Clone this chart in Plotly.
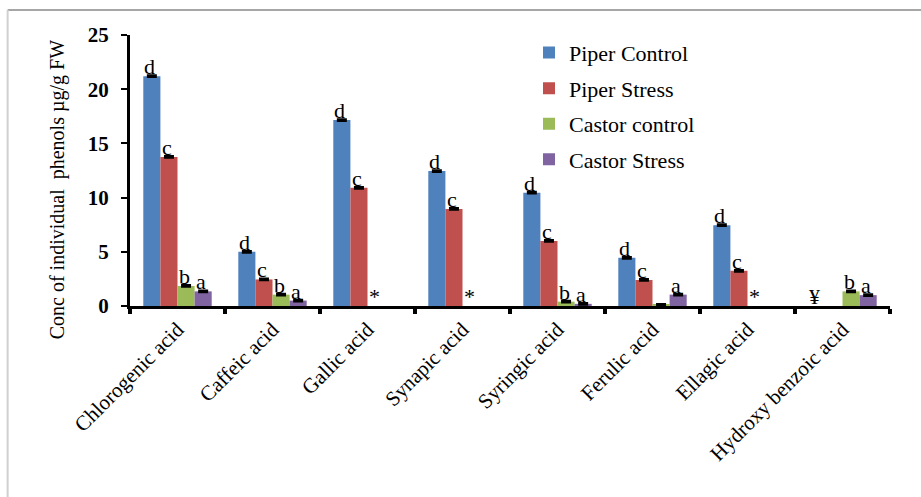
import plotly.graph_objects as go

# Phenolic acids measured
categories = ["Chlorogenic acid", "Caffeic acid", "Gallic acid", "Synapic acid",
              "Syringic acid", "Ferulic acid", "Ellagic acid", "Hydroxy benzoic acid"]

# Concentrations (µg/g FW); 0 = not detected
piper_control = [21.2, 5.0, 17.15, 12.45, 10.45, 4.45, 7.45, 0]
piper_stress = [13.75, 2.45, 10.9, 8.95, 6.0, 2.4, 3.25, 0]
castor_control = [1.85, 1.05, 0, 0, 0.4, 0.1, 0, 1.35]
castor_stress = [1.35, 0.5, 0, 0, 0.2, 1.05, 0, 1.0]

# Small error values drawn as caps on bar tops
piper_control_err = [0.08] * 8
piper_stress_err = [0.08] * 8
castor_control_err = [0.08] * 8
castor_stress_err = [0.08] * 8

# Significance letters per series ("" = none)
piper_control_lbl = ["d", "d", "d", "d", "d", "d", "d", "¥"]
piper_stress_lbl = ["c", "c", "c", "c", "c", "c", "c", ""]
castor_control_lbl = ["b", "b", "*", "*", "b", "", "*", "b"]
castor_stress_lbl = ["a", "a", "", "", "a", "a", "", "a"]

series_names = ["Piper Control", "Piper Stress", "Castor control", "Castor Stress"]
series_values = [piper_control, piper_stress, castor_control, castor_stress]
series_errors = [piper_control_err, piper_stress_err, castor_control_err, castor_stress_err]
series_labels = [piper_control_lbl, piper_stress_lbl, castor_control_lbl, castor_stress_lbl]
colors = ["#4F81BD", "#C0504D", "#9BBB59", "#8064A2"]

SERIF = "Liberation Serif"

fig = go.Figure()
for i, (name, vals, errs, col) in enumerate(zip(series_names, series_values, series_errors, colors)):
    # not-detected entries get no bar and no error cap
    y_vals = [v if v > 0 else None for v in vals]
    fig.add_trace(go.Bar(
        x=categories, y=y_vals, name=name,
        marker=dict(color=col, line=dict(width=0)),
        error_y=dict(type="data", array=errs, visible=True, color="black",
                     thickness=2, width=5),
        legendgroup=f"g{i}",
        offsetgroup=str(i),
    ))

# Letter annotations placed on each bar through the category axis
n = len(series_names)
gap = 0.28
bar_w = (1 - gap) / n
annotations = []
for i, (vals, lbls) in enumerate(zip(series_values, series_labels)):
    off = -(1 - gap) / 2 + bar_w * (i + 0.5)
    for j, (v, t) in enumerate(zip(vals, lbls)):
        if not t:
            continue
        annotations.append(dict(
            x=j + off, y=v, xref="x", yref="y", text=t, showarrow=False,
            xanchor="center", yanchor="bottom", xshift=-2, yshift=-5,
            font=dict(family=SERIF, size=22, color="black"),
        ))

annotations.append(dict(
    x=-0.095, y=0.43, xref="paper", yref="paper", showarrow=False,
    text="Conc of individual  phenols µg/g FW", textangle=-90,
    font=dict(family=SERIF, size=20, color="black"),
    xanchor="center", yanchor="middle",
))

fig.update_layout(
    width=921, height=497,
    margin=dict(l=130, r=31, t=35, b=191),
    paper_bgcolor="white", plot_bgcolor="white",
    font=dict(family=SERIF, color="black"),
    barmode="group", bargap=gap, bargroupgap=0,
    showlegend=True,
    legend=dict(x=0.525, y=1.012, xanchor="left", yanchor="top",
                font=dict(family=SERIF, size=22, color="black"),
                bgcolor="rgba(0,0,0,0)", tracegroupgap=4,
                itemclick=False),
    annotations=annotations,
    shapes=[
        dict(type="line", xref="paper", yref="paper", x0=-0.161, x1=1.05,
             y0=1.092, y1=1.092, line=dict(color="#a6a6a6", width=2)),
        dict(type="line", xref="paper", yref="paper", x0=-0.161, x1=-0.161,
             y0=1.092, y1=-0.72, line=dict(color="#d0d0d0", width=2)),
    ],
    xaxis=dict(
        type="category", showgrid=False, showline=True, linecolor="black",
        linewidth=3, ticks="outside", tickson="boundaries", ticklen=5,
        tickwidth=4, tickcolor="black", tickangle=-45,
        tickfont=dict(family=SERIF, size=21, color="black"),
        range=[-0.5, 7.5],
    ),
    yaxis=dict(
        range=[0, 25], dtick=5, showgrid=False, showline=True, linecolor="black",
        linewidth=3, ticks="outside", ticklen=6, tickwidth=2, tickcolor="black",
        tickfont=dict(family=SERIF, size=21, color="black", weight="bold"),
        ticklabelstandoff=8,
        zeroline=False,
    ),
)

fig.write_html("out.html")
